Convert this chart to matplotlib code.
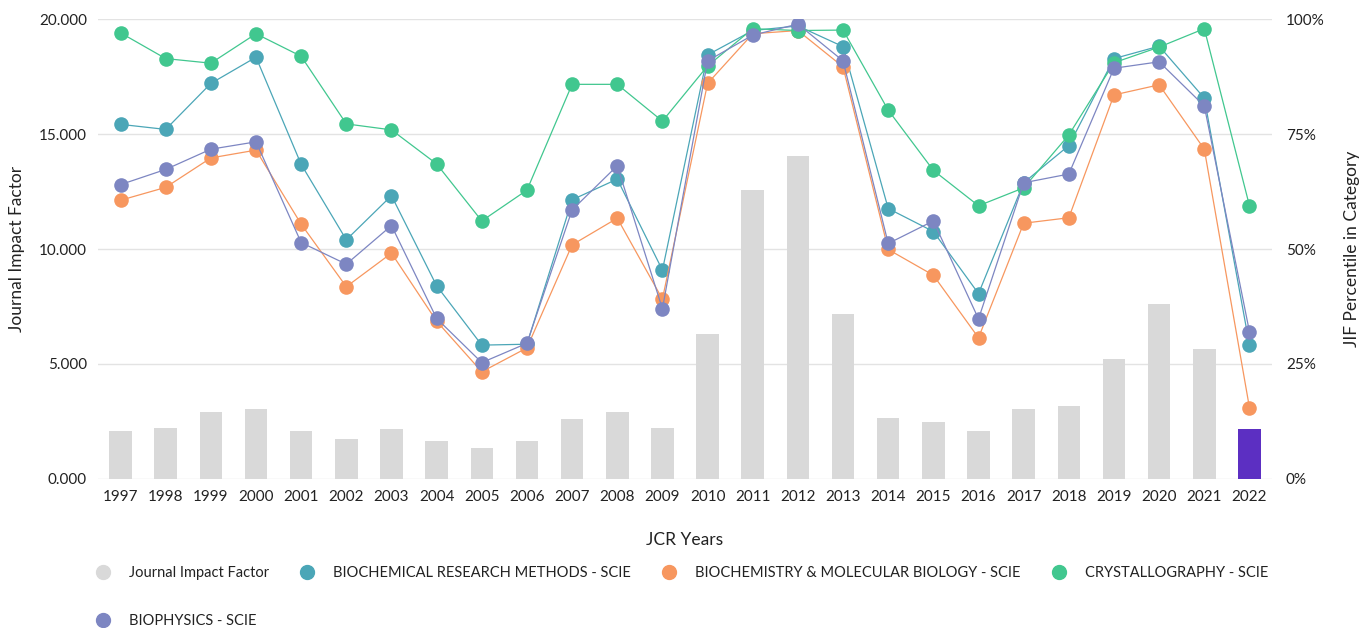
import matplotlib
matplotlib.use("Agg")
import matplotlib.pyplot as plt
from matplotlib.lines import Line2D
import numpy as np

plt.rcParams['font.family'] = ['Lato', 'DejaVu Sans']

years = [str(y) for y in range(1997, 2023)]

# journal impact factor (bars, left axis)
jif = [2.09, 2.22, 2.91, 3.04, 2.09, 1.74, 2.17, 1.65, 1.36, 1.65,
       2.59, 2.90, 2.23, 6.29, 12.57, 14.06, 7.17, 2.64, 2.48, 2.09,
       3.06, 3.19, 5.23, 7.62, 5.65, 2.16]

# JIF percentile in category (right axis)
brm = [77.1, 76.0, 86.0, 91.7, 68.4, 52.0, 61.6, 42.0, 29.1, 29.3,
       60.7, 65.2, 45.4, 92.2, 97.5, 98.5, 94.0, 58.8, 53.8, 40.3,
       64.4, 72.5, 91.4, 94.1, 82.8, 29.1]
bmb = [60.6, 63.4, 69.8, 71.5, 55.4, 41.8, 49.1, 34.3, 23.3, 28.5,
       50.9, 56.7, 39.1, 86.0, 96.8, 97.5, 89.6, 49.9, 44.3, 30.7,
       55.6, 56.8, 83.5, 85.7, 71.7, 15.5]
cryst = [97.0, 91.4, 90.4, 96.8, 91.9, 77.2, 75.9, 68.5, 56.1, 62.8,
         85.8, 85.8, 77.8, 89.8, 97.9, 97.5, 97.6, 80.2, 67.1, 59.4,
         63.3, 74.8, 90.5, 93.9, 97.9, 59.4]
biophys = [64.0, 67.3, 71.7, 73.3, 51.4, 46.7, 55.1, 34.9, 25.3, 29.5,
           58.5, 68.1, 37.0, 90.9, 96.5, 98.9, 90.9, 51.2, 56.1, 34.8,
           64.4, 66.3, 89.3, 90.7, 81.1, 32.0]

series = [
    ("BIOCHEMICAL RESEARCH METHODS - SCIE", brm, "#4ba6b7"),
    ("BIOCHEMISTRY & MOLECULAR BIOLOGY - SCIE", bmb, "#f7975f"),
    ("CRYSTALLOGRAPHY - SCIE", cryst, "#41c78f"),
    ("BIOPHYSICS - SCIE", biophys, "#7d86c2"),
]

fig = plt.figure(figsize=(13.7, 6.28), dpi=100)
ax = fig.add_axes([0.0715, 0.2373, 0.857, 0.7324])
ax2 = ax.twinx()

x = np.arange(len(years))
bar_colors = ["#d9d9d9"] * (len(years) - 1) + ["#5c2fc2"]
ax.bar(x, jif, width=0.5, color=bar_colors, zorder=2)

ax.set_ylim(0, 20)
ax.set_yticks([0, 5, 10, 15, 20])
ax.set_yticklabels(["0.000", "5.000", "10.000", "15.000", "20.000"])
ax.set_xlim(-0.5, len(years) - 0.5)
ax.set_xticks(x)
ax.set_xticklabels(years)
ax.grid(axis="y", color="#e3e3e3", linewidth=1, zorder=0)
ax.set_axisbelow(True)

for name, vals, col in series:
    ax2.plot(x, vals, color=col, linewidth=0.9, marker="o", markersize=10.5,
             markeredgewidth=0, zorder=3)

ax2.set_ylim(0, 100)
ax2.set_yticks([0, 25, 50, 75, 100])
ax2.set_yticklabels(["0%", "25%", "50%", "75%", "100%"])

for a in (ax, ax2):
    for s in a.spines.values():
        s.set_visible(False)
    a.tick_params(length=0, labelsize=11, colors="#222222")
ax.tick_params(axis="x", pad=8)
ax.tick_params(axis="y", pad=8)
ax2.tick_params(axis="y", pad=10)

ax.set_xlabel("JCR Years", fontsize=12.5, color="#222222", labelpad=20)
ax.set_ylabel("Journal Impact Factor", fontsize=12.5, color="#222222", labelpad=10)
ax2.set_ylabel("JIF Percentile in Category", fontsize=12.5, color="#222222", labelpad=14)

handles = [Line2D([], [], linestyle="", marker="o", markersize=10,
                  color="#d9d9d9", label="Journal Impact Factor")]
for name, vals, col in series:
    handles.append(Line2D([], [], linestyle="", marker="o", markersize=10,
                          color=col, label=name))
order = [handles[0], handles[4], handles[1], handles[2], handles[3]]
fig.legend(handles=order, loc="upper left", bbox_to_anchor=(0.055, 0.12),
           ncol=4, frameon=False, fontsize=10.5, handletextpad=0.75,
           columnspacing=1.65, labelspacing=2.35, labelcolor="#222222")

fig.savefig("out.png", dpi=100)
